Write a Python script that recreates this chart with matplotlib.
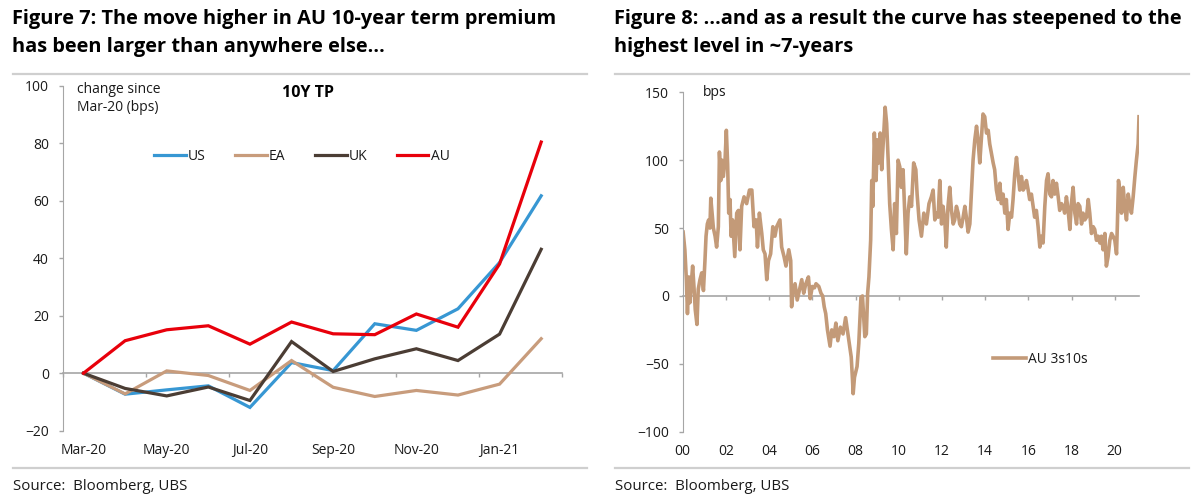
import matplotlib
matplotlib.use('Agg')
import numpy as np
from matplotlib import pyplot as plt
from matplotlib.lines import Line2D

plt.rcParams['font.family'] = ['Open Sans', 'DejaVu Sans']

W, H = 1201, 500

# ---- Figure 7 data: change in 10Y term premium since Mar-20 (bps)
months = ['Mar-20', 'Apr-20', 'May-20', 'Jun-20', 'Jul-20', 'Aug-20',
          'Sep-20', 'Oct-20', 'Nov-20', 'Dec-20', 'Jan-21', 'Feb-21']
us = [0, -7.3, -5.8, -4.4, -11.9, 3.7, 0.9, 17.2, 14.9, 22.4, 38.5, 61.7]
ea = [0, -7.2, 0.8, -0.8, -6.0, 4.4, -4.9, -8.1, -6.0, -7.6, -3.8, 12.0]
uk = [0, -5.3, -7.9, -4.8, -9.5, 11.0, 0.6, 5.0, 8.5, 4.4, 13.6, 43.1]
au = [0, 11.3, 15.1, 16.5, 10.1, 17.8, 13.7, 13.4, 20.6, 16.0, 38.0, 80.4]

# ---- Figure 8 data: AU 3s10s curve (bps), x in years since 2000
curve_t = [0.02, 0.1, 0.17, 0.22, 0.28, 0.33, 0.38, 0.46, 0.52, 0.58, 0.66,
           0.72, 0.8, 0.88, 0.96, 1.03, 1.08, 1.14, 1.2, 1.26, 1.3, 1.36,
           1.42, 1.5, 1.57, 1.65, 1.7, 1.76, 1.82, 1.88, 1.96, 2.02, 2.08,
           2.13, 2.19, 2.24, 2.31, 2.41, 2.5, 2.58, 2.65, 2.73, 2.84, 2.96,
           3.09, 3.2, 3.3, 3.4, 3.46, 3.55, 3.66, 3.73, 3.81, 3.89, 3.97,
           4.07, 4.17, 4.27, 4.35, 4.5, 4.58, 4.69, 4.78, 4.91, 5.0, 5.04,
           5.1, 5.2, 5.3, 5.4, 5.51, 5.6, 5.7, 5.82, 5.9, 6.0, 6.1, 6.17,
           6.3, 6.4, 6.48, 6.55, 6.62, 6.7, 6.82, 6.9, 7.0, 7.09, 7.18, 7.3,
           7.42, 7.54, 7.62, 7.71, 7.8, 7.86, 7.89, 7.95, 8.07, 8.15, 8.25,
           8.32, 8.43, 8.5, 8.56, 8.62, 8.7, 8.75, 8.8, 8.87, 8.95, 9.01,
           9.07, 9.14, 9.21, 9.29, 9.37, 9.44, 9.51, 9.58, 9.66, 9.74, 9.81,
           9.89, 9.97, 10.05, 10.12, 10.2, 10.28, 10.35, 10.43, 10.51, 10.59,
           10.69, 10.79, 10.85, 10.94, 11.05, 11.16, 11.28, 11.4, 11.51,
           11.59, 11.67, 11.74, 11.82, 11.9, 11.98, 12.05, 12.13, 12.2,
           12.28, 12.36, 12.44, 12.52, 12.59, 12.67, 12.75, 12.82, 12.9,
           12.98, 13.06, 13.13, 13.21, 13.29, 13.36, 13.44, 13.52, 13.6,
           13.67, 13.75, 13.83, 13.9, 13.98, 14.06, 14.14, 14.21, 14.29,
           14.37, 14.44, 14.52, 14.6, 14.68, 14.75, 14.83, 14.91, 14.98,
           15.06, 15.14, 15.22, 15.29, 15.37, 15.45, 15.52, 15.6, 15.68,
           15.76, 15.83, 15.91, 15.99, 16.06, 16.14, 16.22, 16.29, 16.37,
           16.45, 16.53, 16.6, 16.68, 16.76, 16.84, 16.91, 16.99, 17.07,
           17.14, 17.22, 17.3, 17.38, 17.45, 17.53, 17.61, 17.68, 17.76,
           17.84, 17.92, 17.99, 18.07, 18.15, 18.23, 18.3, 18.38, 18.46,
           18.53, 18.61, 18.69, 18.77, 18.84, 18.92, 19.0, 19.07, 19.15,
           19.23, 19.31, 19.38, 19.46, 19.54, 19.61, 19.69, 19.77, 19.85,
           19.92, 20.0, 20.08, 20.12, 20.17, 20.23, 20.31, 20.39, 20.46,
           20.54, 20.62, 20.69, 20.77, 20.85, 20.93, 21.0, 21.08, 21.12]
curve_v = [47, 34, 12, -13, 14, -5, 5, 22, 7, -10, -21,
           5, 12, 17, 4, 26, 44, 53, 56, 50, 72, 61,
           50, 44, 36, 51, 106, 85, 100, 88, 100, 122, 97,
           61, 71, 44, 56, 29, 61, 63, 34, 66, 73, 68,
           78, 78, 51, 56, 36, 61, 46, 34, 31, 12, 26,
           31, 51, 44, 51, 56, 36, 29, 22, 34, 26, -8,
           2, 9, -3, 4, 12, 2, 9, 14, -2, 7, 6, 9,
           7, 2, 0, -8, -13, -25, -37, -25, -30, -20, -33, -23,
           -28, -16, -25, -35, -45, -62, -72, -60, -52, -35, -1,
           0, -30, -28, 2, 14, 41, 85, 66, 120, 85, 115,
           98, 120, 93, 115, 139, 127, 100, 68, 49, 34, 68,
           46, 100, 95, 80, 93, 61, 31, 61, 73, 66,
           98, 93, 75, 56, 44, 61, 53, 68, 73,
           78, 56, 61, 58, 85, 53, 66, 56, 36,
           66, 80, 63, 53, 56, 66, 61, 53, 51,
           58, 66, 58, 47, 53, 75, 100, 115, 125,
           115, 98, 117, 134, 132, 120, 122, 112, 105,
           98, 93, 78, 71, 83, 68, 75, 61, 71,
           49, 61, 58, 71, 90, 102, 90, 78, 88,
           78, 80, 85, 78, 71, 75, 66, 58, 63,
           51, 36, 44, 39, 66, 85, 90, 75, 73,
           85, 75, 83, 73, 63, 68, 66, 61, 73,
           63, 49, 68, 80, 61, 53, 68, 66, 53,
           61, 56, 58, 71, 61, 46, 51, 49, 41,
           44, 39, 44, 34, 46, 22, 29, 41, 46,
           44, 41, 31, 53, 85, 78, 61, 80, 66,
           56, 75, 68, 61, 73, 88, 100, 112, 132]
year_ticks = list(range(0, 21, 2))
year_labels = ['%02d' % y for y in year_ticks]

c_us, c_ea, c_uk, c_au = '#3797d3', '#c89c7c', '#4b3d34', '#e8000b'
c_curve = '#c39a78'
axis_grey = '#a6a6a6'
txt = '#1a1a1a'

fig = plt.figure(figsize=(W / 100, H / 100), dpi=100)


def px_axes(x0, y0, x1, y1):
    return fig.add_axes([x0 / W, 1 - y1 / H, (x1 - x0) / W, (y1 - y0) / H])


def style_axes(ax, ymin, ymax):
    for s in ['top', 'right', 'bottom']:
        ax.spines[s].set_visible(False)
    ax.spines['left'].set_color(axis_grey)
    ax.set_ylim(ymin, ymax)
    ax.tick_params(axis='y', length=3, width=1, color=axis_grey, pad=7,
                   labelsize=10, labelcolor=txt)
    ax.tick_params(axis='x', which='both', length=0, labelsize=10,
                   labelcolor=txt, pad=9)
    # horizontal axis crossing at zero
    sec = ax.secondary_xaxis(0, transform=ax.transData)
    sec.spines['bottom'].set_color(axis_grey)
    sec.spines['bottom'].set_linewidth(1.2)
    sec.tick_params(length=3, width=1, color=axis_grey, direction='out',
                    labelbottom=False)
    return sec


# ---------------- Figure 7
ax1 = px_axes(62.7, 85.7, 562, 430.7)
sec1 = style_axes(ax1, -20, 100)
x = np.arange(len(months))
ax1.set_xlim(-0.5, len(months) - 0.5)
ax1.set_yticks(range(-20, 101, 20))
ax1.set_xticks(x[::2])
ax1.set_xticklabels(months[::2])
sec1.set_xticks(np.arange(-0.5, len(months), 2))
lw = 2.3
ax1.plot(x, us, color=c_us, lw=lw, label='US', solid_joinstyle='miter')
ax1.plot(x, ea, color=c_ea, lw=lw, label='EA', solid_joinstyle='miter')
ax1.plot(x, uk, color=c_uk, lw=lw, label='UK', solid_joinstyle='miter')
ax1.plot(x, au, color=c_au, lw=lw, label='AU', solid_joinstyle='miter')
ax1.legend(loc='center left', bbox_to_anchor=(0.183, 0.796), ncol=4,
           frameon=False, fontsize=10, handlelength=2.3, handletextpad=0.15,
           columnspacing=2.1, borderpad=0, borderaxespad=0, labelcolor=txt)
fig.text(77 / W, 1 - 82 / H, 'change since\nMar-20 (bps)', fontsize=10,
         color=txt, ha='left', va='top', linespacing=1.3)
fig.text(308 / W, 1 - 93 / H, '10Y TP', fontsize=11.5, fontweight='bold',
         color='black', ha='center', va='center')

# ---------------- Figure 8
ax2 = px_axes(682.7, 92.3, 1139, 431.7)
sec2 = style_axes(ax2, -100, 150)
ax2.set_xlim(0, 21.12)
ax2.set_yticks(range(-100, 151, 50))
ax2.set_xticks(year_ticks)
ax2.set_xticklabels(year_labels)
sec2.set_xticks(year_ticks[1:])
ax2.plot(curve_t, curve_v, color=c_curve, lw=2.6, label='AU 3s10s')
ax2.legend(loc='center left', bbox_to_anchor=(0.68, 0.214), frameon=False,
           fontsize=10, handlelength=2.4, handletextpad=0.15, borderpad=0,
           borderaxespad=0, labelcolor=txt)
fig.text(702.7 / W, 1 - 93 / H, 'bps', fontsize=10, color=txt,
         ha='left', va='center')

# ---------------- titles, separators, sources
title_kw = dict(fontsize=14.4, fontweight='bold', color='black',
                ha='left', va='top', linespacing=1.55)
fig.text(12 / W, 1 - 9 / H,
         'Figure 7: The move higher in AU 10-year term premium\n'
         'has been larger than anywhere else\u2026', **title_kw)
fig.text(614 / W, 1 - 9 / H,
         'Figure 8: \u2026and as a result the curve has steepened to the\n'
         'highest level in ~7-years', **title_kw)

for x0, x1 in [(13, 587), (615, 1189)]:
    for yy in (74, 468):
        fig.add_artist(Line2D([x0 / W, x1 / W], [1 - yy / H, 1 - yy / H],
                              transform=fig.transFigure, color='#cfcfcf',
                              lw=1.6))
    fig.text(x0 / W, 1 - 486 / H, 'Source:  Bloomberg, UBS', fontsize=10.8,
             color=txt, ha='left', va='center')

fig.savefig('out.png', dpi=100)
